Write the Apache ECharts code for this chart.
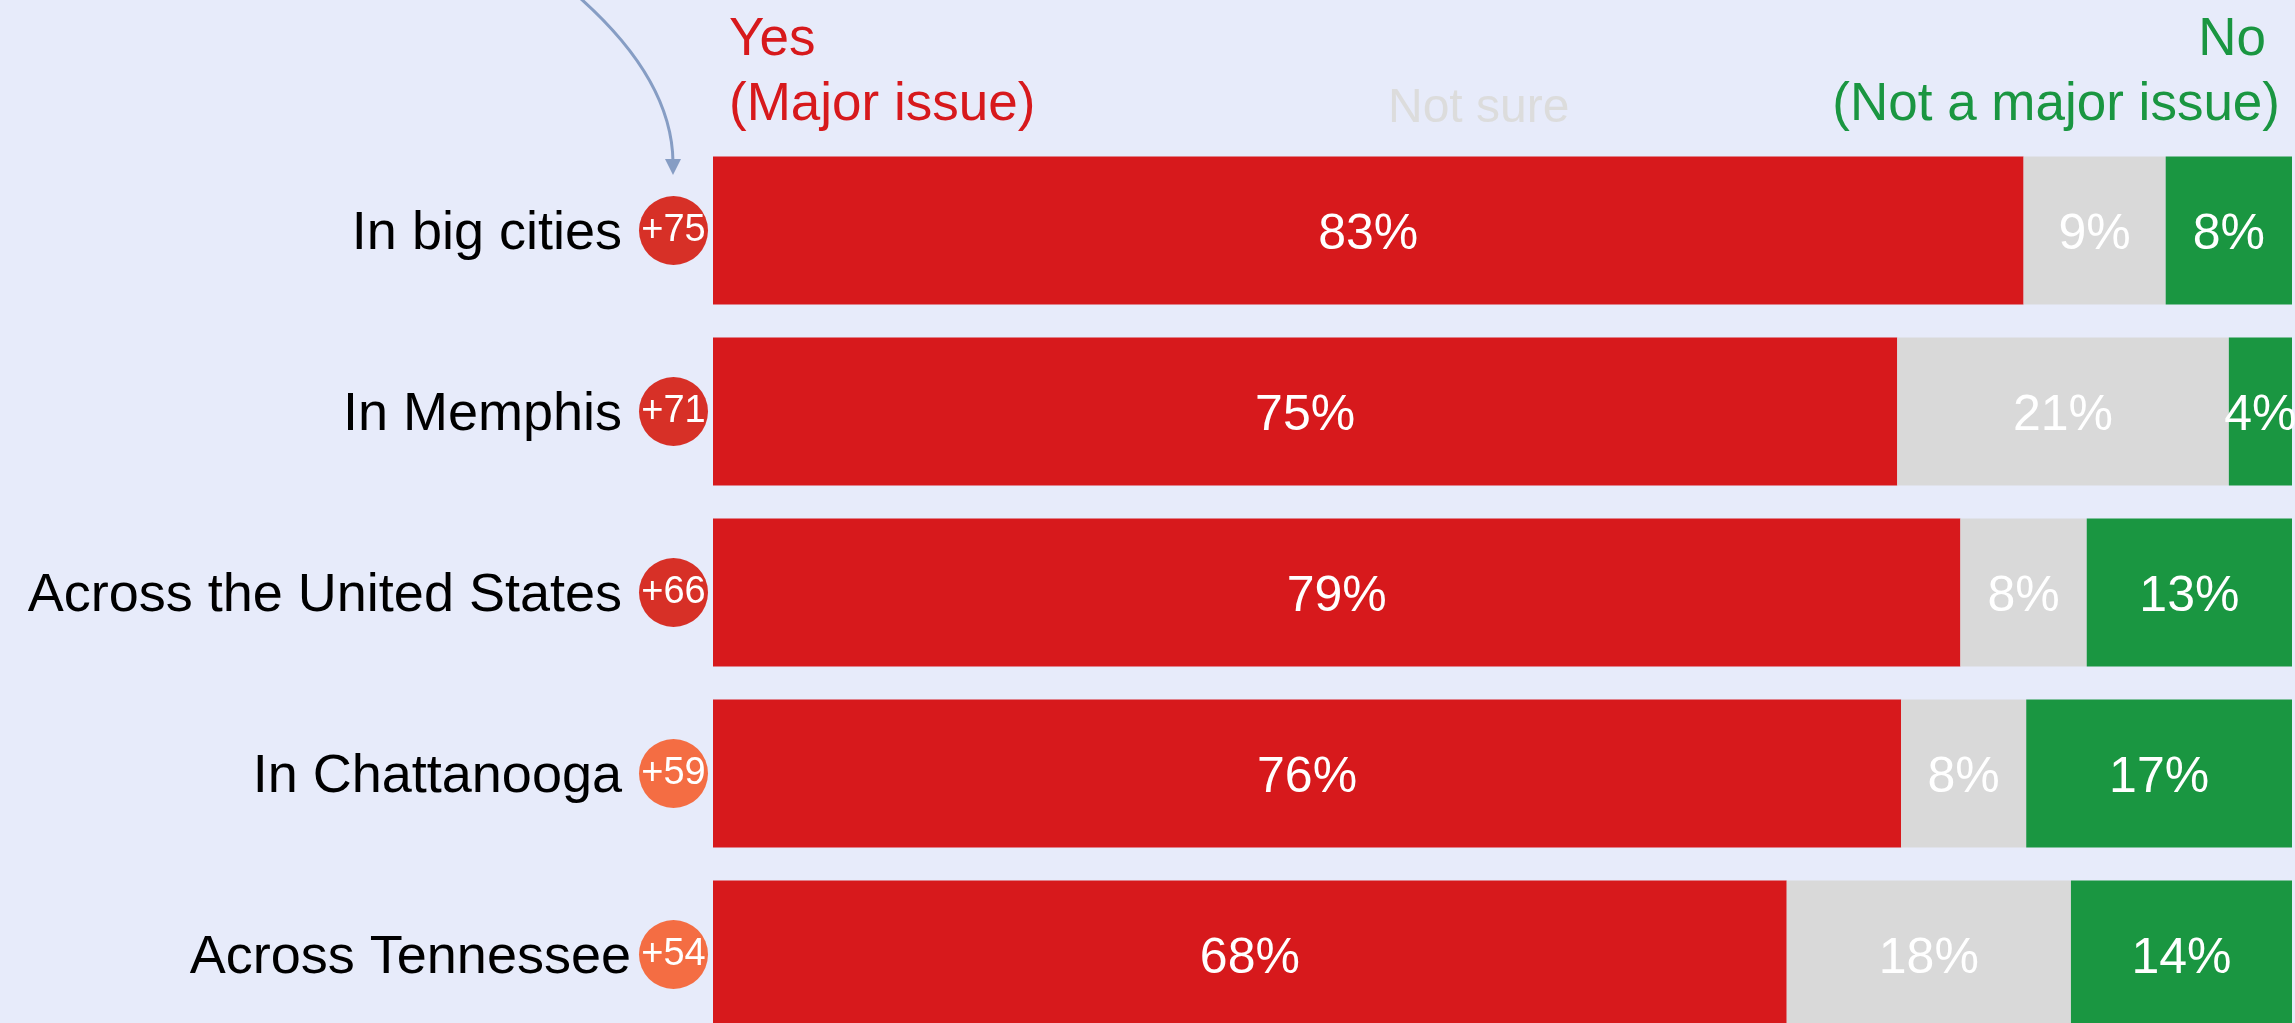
<!DOCTYPE html>
<html>
<head>
<meta charset="utf-8">
<script src="https://cdn.jsdelivr.net/npm/echarts@6/dist/echarts.min.js"></script>
<style>
  html, body { margin: 0; padding: 0; background: #e7ebfa; }
  #chart { width: 2295px; height: 1023px; }
</style>
</head>
<body>
<div id="chart"></div>
<script>
// ---- data ----
const categories = ['In big cities', 'In Memphis', 'Across the United States', 'In Chattanooga', 'Across Tennessee'];
const yesValues = [83, 75, 79, 76, 68];
const notSureValues = [9, 21, 8, 8, 18];
const noValues = [8, 4, 13, 17, 14];
const seriesNames = ['Yes (Major issue)', 'Not sure', 'No (Not a major issue)'];

// ---- derived ----
const totals = categories.map((c, i) => yesValues[i] + notSureValues[i] + noValues[i]);
const share = arr => arr.map((v, i) => v / totals[i] * 100);
const net = categories.map((c, i) => yesValues[i] - noValues[i]);
const raw = [yesValues, notSureValues, noValues];

const FONT = '"Liberation Sans", Arial, Helvetica, sans-serif';
const colors = ['#d7191c', '#d9d9d9', '#1a9641'];

const chart = echarts.init(document.getElementById('chart'), null, { renderer: 'canvas' });

const barLabel = (k) => ({
  show: true,
  position: 'inside',
  offset: [0, 5],
  color: '#ffffff',
  fontSize: 50,
  fontFamily: FONT,
  formatter: p => raw[k][p.dataIndex] + '%'
});

const badge = (bg) => ({
  backgroundColor: bg,
  borderRadius: 35,
  width: 69,
  height: 69,
  lineHeight: 69,
  align: 'center',
  color: '#ffffff',
  fontSize: 38,
  fontFamily: FONT
});

chart.setOption({
  backgroundColor: '#e7ebfa',
  animation: false,
  grid: { left: 713, right: 3, top: 140, height: 905, containLabel: false, outerBoundsMode: 'none' },
  xAxis: { type: 'value', min: 0, max: 100, show: false },
  yAxis: {
    type: 'category',
    data: categories,
    inverse: true,
    axisLine: { show: false },
    axisTick: { show: false },
    splitLine: { show: false },
    axisLabel: {
      margin: 5,
      formatter: (value, idx) => {
        const tag = net[idx] >= 60 ? 'hi' : 'lo';
        const gap = idx === categories.length - 1 ? 'gs' : 'g';
        return '{n|' + value + '}{' + gap + '|}{' + tag + '|+' + net[idx] + '}';
      },
      rich: {
        n: { fontSize: 54, color: '#000000', fontFamily: FONT, padding: [8, 0, 0, 0] },
        g: { width: 17 },
        gs: { width: 8 },
        hi: badge('#d73027'),
        lo: badge('#f46d43')
      }
    }
  },
  series: [yesValues, notSureValues, noValues].map((arr, k) => ({
    name: seriesNames[k],
    type: 'bar',
    stack: 'total',
    barWidth: 148,
    data: share(arr),
    itemStyle: { color: colors[k] },
    label: barLabel(k),
    emphasis: { disabled: true }
  })),
  graphic: [
    { type: 'text', left: 729, top: 14, style: { text: 'Yes', fill: '#d7191c', font: '53px ' + FONT } },
    { type: 'text', left: 729, top: 79, style: { text: '(Major issue)', fill: '#d7191c', font: '53px ' + FONT } },
    { type: 'text', right: 29, top: 14, style: { text: 'No', fill: '#1a9641', font: '53px ' + FONT } },
    { type: 'text', right: 15, top: 79, style: { text: '(Not a major issue)', fill: '#1a9641', font: '53px ' + FONT } },
    { type: 'text', left: 1388, top: 85, style: { text: 'Not sure', fill: '#dcdcdc', font: '48px ' + FONT } },
    {
      type: 'bezierCurve',
      shape: { x1: 580, y1: -2, cpx1: 672, cpy1: 80, x2: 673, y2: 162 },
      style: { stroke: '#869dc4', lineWidth: 3, fill: null }
    },
    {
      type: 'polygon',
      shape: { points: [[665, 159], [681, 159], [673, 175]] },
      style: { fill: '#869dc4' }
    }
  ]
});
</script>
</body>
</html>
